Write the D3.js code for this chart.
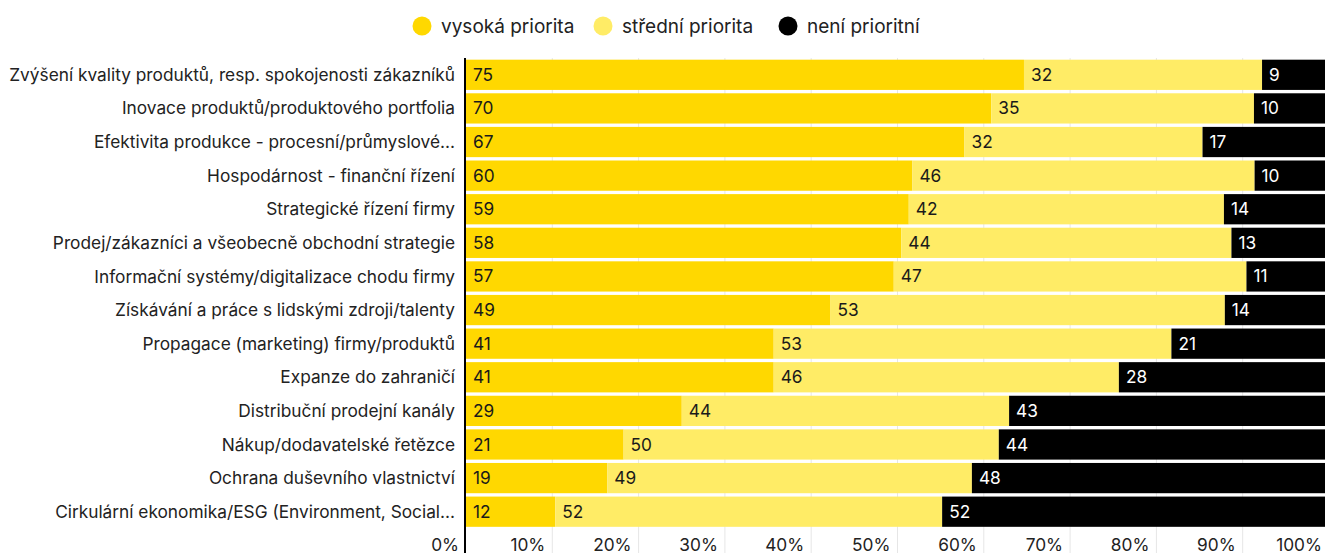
<!DOCTYPE html>
<html>
<head>
<meta charset="utf-8">
<script src="https://cdn.jsdelivr.net/npm/d3@7"></script>
<style>
  body { margin: 0; background: #fff; }
  svg { font-family: Inter, "Noto Sans", sans-serif; }
</style>
</head>
<body>
<div id="chart"></div>
<script>
// data
var categories = [
  "Zvýšení kvality produktů, resp. spokojenosti zákazníků",
  "Inovace produktů/produktového portfolia",
  "Efektivita produkce - procesní/průmyslové...",
  "Hospodárnost - finanční řízení",
  "Strategické řízení firmy",
  "Prodej/zákazníci a všeobecně obchodní strategie",
  "Informační systémy/digitalizace chodu firmy",
  "Získávání a práce s lidskými zdroji/talenty",
  "Propagace (marketing) firmy/produktů",
  "Expanze do zahraničí",
  "Distribuční prodejní kanály",
  "Nákup/dodavatelské řetězce",
  "Ochrana duševního vlastnictví",
  "Cirkulární ekonomika/ESG (Environment, Social..."
];
var vysoka = [75, 70, 67, 60, 59, 58, 57, 49, 41, 41, 29, 21, 19, 12];
var stredni = [32, 35, 32, 46, 42, 44, 47, 53, 53, 46, 44, 50, 49, 52];
var neni = [9, 10, 17, 10, 14, 13, 11, 14, 21, 28, 43, 44, 48, 52];
var seriesNames = ["vysoká priorita", "střední priorita", "není prioritní"];
var ticks = [0, 0.1, 0.2, 0.3, 0.4, 0.5, 0.6, 0.7, 0.8, 0.9, 1];

var width = 1325, height = 553;
var colors = ["#ffd800", "#ffec66", "#000000"];
var textColors = ["#1a1a1a", "#1a1a1a", "#ffffff"];

var rows = categories.map(function(c, i) {
  return { cat: c, vals: [vysoka[i], stredni[i], neni[i]] };
});

var svg = d3.select("#chart").append("svg")
  .attr("width", width)
  .attr("height", height);

var x = d3.scaleLinear().domain([0, 1]).range([466, 1329]);
var y = d3.scaleBand().domain(categories).range([58, 528.5]).paddingInner(0.1).paddingOuter(0.05);

// grid lines
svg.append("g").selectAll("line")
  .data(ticks.slice(1))
  .enter().append("line")
  .attr("x1", function(d) { return x(d); })
  .attr("x2", function(d) { return x(d); })
  .attr("y1", 58)
  .attr("y2", height)
  .attr("stroke", "#e6e6e6")
  .attr("stroke-width", 1);

// bars
var rowG = svg.append("g").selectAll("g")
  .data(rows)
  .enter().append("g")
  .attr("transform", function(d) { return "translate(0," + y(d.cat) + ")"; });

rowG.each(function(d) {
  var g = d3.select(this);
  var total = d3.sum(d.vals);
  var acc = 0;
  d.vals.forEach(function(v, k) {
    var x0 = x(acc / total), x1 = x((acc + v) / total);
    g.append("rect")
      .attr("x", x0)
      .attr("y", 0)
      .attr("width", x1 - x0)
      .attr("height", y.bandwidth())
      .attr("fill", colors[k]);
    g.append("text")
      .attr("x", x0 + 7)
      .attr("y", y.bandwidth() / 2)
      .attr("dy", "0.35em")
      .attr("font-size", 17.3)
      .attr("fill", textColors[k])
      .text(v);
    acc += v;
  });
});

// category labels
svg.append("g").selectAll("text")
  .data(categories)
  .enter().append("text")
  .attr("x", 455)
  .attr("y", function(d) { return y(d) + y.bandwidth() / 2; })
  .attr("dy", "0.35em")
  .attr("text-anchor", "end")
  .attr("font-size", 17.3)
  .attr("fill", "#222")
  .text(function(d) { return d; });

// x axis labels
svg.append("g").selectAll("text")
  .data(ticks)
  .enter().append("text")
  .attr("x", function(d) { return x(d) - 7; })
  .attr("y", 545)
  .attr("dy", "0.35em")
  .attr("text-anchor", "end")
  .attr("font-size", 17.3)
  .attr("fill", "#222")
  .text(function(d) { return Math.round(d * 100) + "%"; });

// vertical axis line
svg.append("line")
  .attr("x1", 465).attr("x2", 465)
  .attr("y1", 58).attr("y2", height)
  .attr("stroke", "#000")
  .attr("stroke-width", 2);

// legend
var legendX = [422, 603, 788];
var legend = svg.append("g").selectAll("g")
  .data(seriesNames)
  .enter().append("g")
  .attr("transform", function(d, i) { return "translate(" + legendX[i] + ",26)"; });
legend.append("circle")
  .attr("r", 9.5)
  .attr("fill", function(d, i) { return colors[i]; });
legend.append("text")
  .attr("x", 19)
  .attr("dy", "0.35em")
  .attr("font-size", 19)
  .attr("fill", "#222")
  .text(function(d) { return d; });
</script>
</body>
</html>
